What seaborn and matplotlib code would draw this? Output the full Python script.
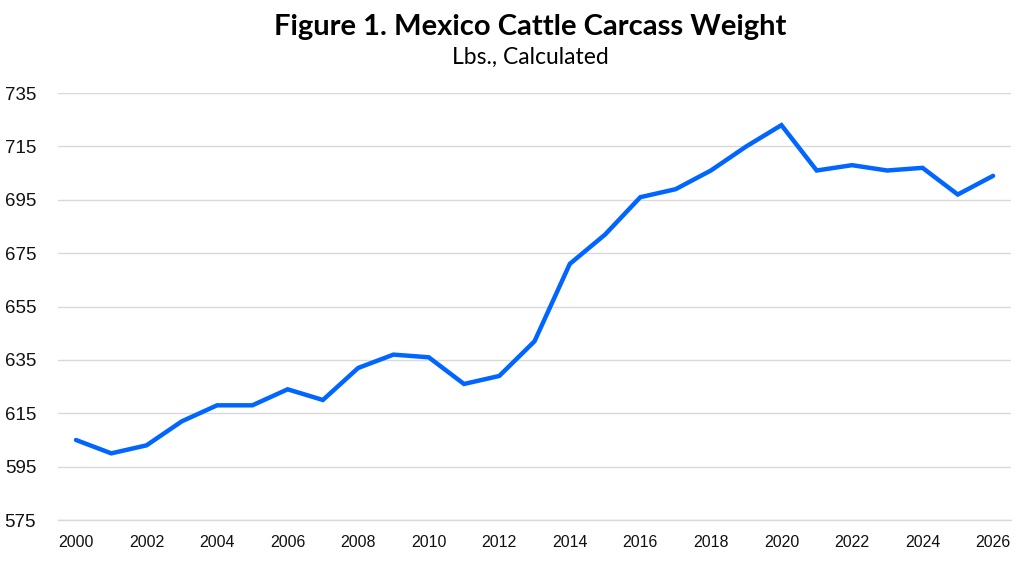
import numpy as np
import pandas as pd
import matplotlib
matplotlib.use("Agg")
import matplotlib.pyplot as plt
import seaborn as sns

# Values
years = list(range(2000, 2027))
weight = [605, 600, 603, 612, 618, 618, 624, 620, 632, 637, 636, 626, 629,
          642, 671, 682, 696, 699, 706, 715, 723, 706, 708, 706, 707, 697, 704]
y_ticks = [575, 595, 615, 635, 655, 675, 695, 715, 735]
x_labels = list(range(2000, 2027, 2))

df = pd.DataFrame({"Year": years, "Weight": weight})

sns.set_style("white")
plt.rcParams['font.family'] = ['Liberation Sans', 'DejaVu Sans']

fig = plt.figure(figsize=(10.24, 5.61), dpi=100)
ax = fig.add_axes([0.057, 0.073, 0.930, 0.761])

sns.lineplot(data=df, x="Year", y="Weight", ax=ax, color="#0066FF",
             linewidth=3.2, solid_joinstyle="miter", zorder=3)

ax.set_xlim(1999.5, 2026.5)
ax.set_ylim(575, 735)
ax.set_yticks(y_ticks)
ax.set_xticks(x_labels)
ax.set_xticks(np.arange(1999.5, 2027, 1), minor=True)
ax.tick_params(axis="x", which="major", length=0, pad=11, labelsize=11.5, colors="#111111")
ax.tick_params(axis="x", which="minor", length=9, width=1, direction="inout", color="#d9d9d9")
ax.tick_params(axis="y", length=0, pad=16, labelsize=13.5, colors="#111111")
ax.grid(axis="y", color="#d9d9d9", linewidth=1)
ax.set_xlabel("")
ax.set_ylabel("")
for s in ["top", "right", "left"]:
    ax.spines[s].set_visible(False)
ax.spines["bottom"].set_color("#d9d9d9")
ax.spines["bottom"].set_linewidth(1)

fig.text(0.518, 0.952, "Figure 1. Mexico Cattle Carcass Weight", ha="center", va="center",
         fontsize=21, fontweight="bold", color="black", family=["Lato", "DejaVu Sans"])
fig.text(0.518, 0.898, "Lbs., Calculated", ha="center", va="center",
         fontsize=16.5, color="black", family=["Lato", "DejaVu Sans"])

fig.savefig("out.png", dpi=100)
